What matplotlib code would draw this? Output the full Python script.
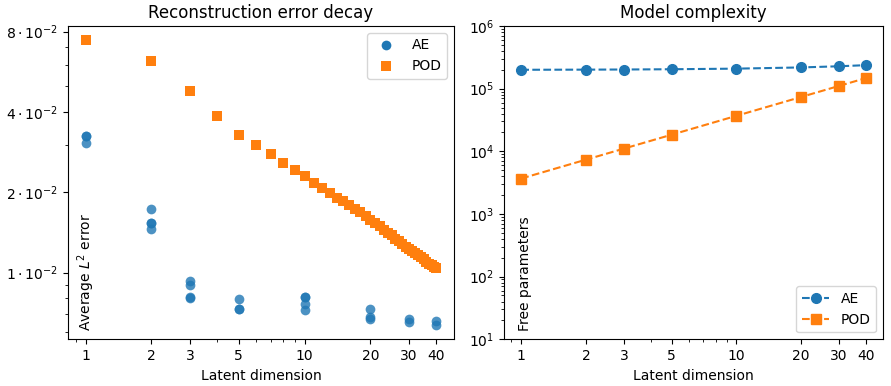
import matplotlib
matplotlib.use("Agg")
import matplotlib.pyplot as plt
import numpy as np
from matplotlib.ticker import NullFormatter

# reconstruction error: AE runs per latent dimension
ae_dims = [1, 2, 3, 5, 10, 20, 30, 40]
ae_runs = [
    [0.0326, 0.0325, 0.0305],
    [0.0173, 0.0154, 0.0153, 0.0146],
    [0.0093, 0.0090, 0.00808, 0.00806],
    [0.00796, 0.00731, 0.00729],
    [0.00813, 0.00810, 0.0076, 0.00724],
    [0.00728, 0.00683, 0.00668],
    [0.00668, 0.00654],
    [0.00658, 0.00636],
]

# reconstruction error: POD for latent dims 1..40
pod_dims = list(range(1, 41))
pod_err = [
    0.0743, 0.0621, 0.0480, 0.0386, 0.0328, 0.0302, 0.0279, 0.0258, 0.0242, 0.0230,
    0.0216, 0.0208, 0.0199, 0.0191, 0.0185, 0.0179, 0.0173, 0.0168, 0.0163, 0.0158,
    0.0153, 0.0149, 0.0145, 0.0141, 0.0138, 0.0134, 0.0131, 0.0128, 0.0125, 0.0123,
    0.0120, 0.0118, 0.0116, 0.0114, 0.0112, 0.0110, 0.0108, 0.0107, 0.0105, 0.0104,
]

# model complexity (free parameters)
ae_params = [2.00e5, 2.01e5, 2.02e5, 2.04e5, 2.085e5, 2.18e5, 2.275e5, 2.37e5]
pod_params = [3680, 7360, 11040, 18400, 36800, 73600, 110400, 147200]

xticks = [1, 2, 3, 5, 10, 20, 30, 40]
err_ticks = [0.01, 0.02, 0.04, 0.08]
err_labels = [r"$1\cdot10^{-2}$", r"$2\cdot10^{-2}$", r"$4\cdot10^{-2}$", r"$8\cdot10^{-2}$"]

fig = plt.figure(figsize=(8.91, 3.86), dpi=100)
ax1 = fig.add_axes([0.0763, 0.121, 0.4332, 0.8117])
ax2 = fig.add_axes([0.5657, 0.121, 0.4254, 0.8117])

x_ae = np.concatenate([[d] * len(r) for d, r in zip(ae_dims, ae_runs)])
y_ae = np.concatenate(ae_runs)
ax1.plot(x_ae, y_ae, "o", color="C0", alpha=0.8, markersize=7, markeredgewidth=0, label="AE")
ax1.plot(pod_dims, pod_err, "s", color="C1", markersize=7, markeredgewidth=0, label="POD")
ax1.set_xscale("log")
ax1.set_yscale("log")
ax1.set_xticks(xticks, labels=[str(t) for t in xticks])
ax1.xaxis.set_minor_formatter(NullFormatter())
ax1.set_yticks(err_ticks, labels=err_labels)
ax1.yaxis.set_minor_formatter(NullFormatter())
ax1.set_xlabel("Latent dimension")
ax1.set_ylabel(r"Average $L^2$ error", loc="bottom")
ax1.yaxis.set_label_coords(0.075, 0.027)
ax1.set_title("Reconstruction error decay")
leg = ax1.legend(loc="upper right")
for h in leg.legend_handles:
    h.set_alpha(1)

ax2.plot(ae_dims, ae_params, "o--", color="C0", markersize=7, label="AE")
ax2.plot(ae_dims, pod_params, "s--", color="C1", markersize=7, label="POD")
ax2.set_xscale("log")
ax2.set_yscale("log")
ax2.set_ylim(10, 1e6)
ax2.set_xticks(xticks, labels=[str(t) for t in xticks])
ax2.xaxis.set_minor_formatter(NullFormatter())
ax2.set_xlabel("Latent dimension")
ax2.set_ylabel("Free parameters", loc="bottom")
ax2.yaxis.set_label_coords(0.073, 0.027)
ax2.set_title("Model complexity")
ax2.legend(loc="lower right")

fig.savefig("out.png", dpi=100)
